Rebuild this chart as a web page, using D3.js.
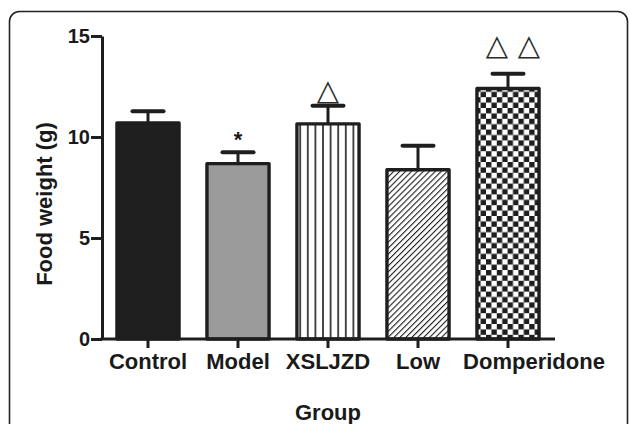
<!DOCTYPE html>
<html>
<head>
<meta charset="utf-8">
<script src="https://cdn.jsdelivr.net/npm/d3@7/dist/d3.min.js"></script>
<style>
  html, body { margin: 0; padding: 0; background: #fff; }
  svg { display: block; }
  text { font-family: "Liberation Sans", Arial, sans-serif; font-weight: bold; fill: #1a1a1a; }
</style>
</head>
<body>
<svg id="chart" width="630" height="424"></svg>
<script>
// Food intake per group (mean ± SEM)
const groups = ["Control", "Model", "XSLJZD", "Low", "Domperidone"];
const means = [10.7, 8.68, 10.65, 8.38, 12.4];
const sems = [0.58, 0.56, 0.9, 1.19, 0.73];
const marks = ["", "*", "△", "", "△△"];
const yTicks = [0, 5, 10, 15];

const ink = "#1e1e1e";
const svg = d3.select("#chart");

// Outer panel frame
svg.append("rect")
  .attr("x", 9.5).attr("y", 11.5)
  .attr("width", 618).attr("height", 440)
  .attr("rx", 10).attr("ry", 10)
  .attr("fill", "none").attr("stroke", "#222").attr("stroke-width", 1.6);

// Fill patterns
const defs = svg.append("defs");

const vlines = defs.append("pattern").attr("id", "vlines")
  .attr("patternUnits", "userSpaceOnUse").attr("width", 7.6).attr("height", 10);
vlines.append("rect").attr("width", 7.6).attr("height", 10).attr("fill", "#fff");
vlines.append("line").attr("x1", 3.8).attr("x2", 3.8).attr("y1", 0).attr("y2", 10)
  .attr("stroke", ink).attr("stroke-width", 1.6);

const hatch = defs.append("pattern").attr("id", "hatch")
  .attr("patternUnits", "userSpaceOnUse").attr("width", 4.2).attr("height", 4.2)
  .attr("patternTransform", "rotate(45)");
hatch.append("rect").attr("width", 4.2).attr("height", 4.2).attr("fill", "#fff");
hatch.append("line").attr("x1", 0).attr("x2", 0).attr("y1", 0).attr("y2", 4.2)
  .attr("stroke", ink).attr("stroke-width", 2.2);

const cell = 5.4;
const checker = defs.append("pattern").attr("id", "checker")
  .attr("patternUnits", "userSpaceOnUse").attr("width", cell * 2).attr("height", cell * 2);
checker.append("rect").attr("width", cell * 2).attr("height", cell * 2).attr("fill", "#fff");
checker.append("rect").attr("width", cell).attr("height", cell).attr("fill", ink);
checker.append("rect").attr("x", cell).attr("y", cell).attr("width", cell).attr("height", cell).attr("fill", ink);

const fills = ["#1f1f1f", "#9b9b9b", "url(#vlines)", "url(#hatch)", "url(#checker)"];

// Scales
const x = d3.scaleBand().domain(groups).range([103, 553]).paddingInner(0.31).paddingOuter(0.155);
const y = d3.scaleLinear().domain([0, 15]).range([339, 36]);

// Bars
svg.append("g").selectAll("rect")
  .data(groups)
  .join("rect")
  .attr("x", d => x(d))
  .attr("width", x.bandwidth())
  .attr("y", (d, i) => y(means[i]))
  .attr("height", (d, i) => y(0) - y(means[i]))
  .attr("fill", (d, i) => fills[i])
  .attr("stroke", ink)
  .attr("stroke-width", 3.4)
  .attr("stroke-linejoin", "round");

// Error bars (upper only)
const err = svg.append("g").attr("stroke", ink).attr("stroke-linecap", "round");
groups.forEach((g, i) => {
  const cx = x(g) + x.bandwidth() / 2;
  err.append("line")
    .attr("x1", cx).attr("x2", cx)
    .attr("y1", y(means[i])).attr("y2", y(means[i] + sems[i]))
    .attr("stroke-width", 3);
  err.append("line")
    .attr("x1", cx - 15.5).attr("x2", cx + 15.5)
    .attr("y1", y(means[i] + sems[i])).attr("y2", y(means[i] + sems[i]))
    .attr("stroke-width", 4);
});

// Significance marks: gap above the error cap and horizontal shift of the group
const markGap = { "Model": 5, "XSLJZD": 6, "Domperidone": 19 };
const markShift = { "Domperidone": 5 };
const markSpacing = 32;
groups.forEach((g, i) => {
  if (!marks[i]) return;
  const cx = x(g) + x.bandwidth() / 2 + (markShift[g] || 0);
  const base = y(means[i] + sems[i]) - (markGap[g] || 6);
  if (marks[i] === "*") {
    svg.append("text")
      .attr("x", cx).attr("y", base)
      .attr("text-anchor", "middle")
      .style("font-size", "22px")
      .text(marks[i]);
    return;
  }
  const glyphs = Array.from(marks[i]);
  glyphs.forEach((c, k) => {
    svg.append("text")
      .attr("x", cx + (k - (glyphs.length - 1) / 2) * markSpacing)
      .attr("y", base)
      .attr("text-anchor", "middle")
      .style("font-family", "'DejaVu Sans', sans-serif")
      .style("font-weight", "normal")
      .style("font-size", "29px")
      .style("fill", "#2a2a2a")
      .text(c);
  });
});

// Y axis
const yAxis = svg.append("g")
  .attr("transform", "translate(102,0)")
  .call(d3.axisLeft(y).tickValues(yTicks).tickFormat(d3.format("d")).tickSize(11).tickSizeOuter(0).tickPadding(1));
yAxis.select(".domain").attr("stroke", ink).attr("stroke-width", 3);
yAxis.selectAll(".tick line").attr("stroke", ink).attr("stroke-width", 3);
yAxis.selectAll(".tick text").style("font-size", "20px").style("font-family", "'Liberation Sans', Arial, sans-serif").style("font-weight", "bold").attr("fill", "#1a1a1a");

// X axis
const xAxis = svg.append("g")
  .attr("transform", "translate(0,339)")
  .call(d3.axisBottom(x).tickSize(9).tickSizeOuter(0).tickFormat(""));
xAxis.select(".domain").remove();
xAxis.selectAll(".tick line").attr("stroke", ink).attr("stroke-width", 3);
xAxis.append("line")
  .attr("x1", 100.5).attr("x2", x.range()[1] + 2)
  .attr("y1", 0).attr("y2", 0)
  .attr("stroke", ink).attr("stroke-width", 3);

// Category labels
const labelShift = { "Domperidone": 26 };
svg.append("g").selectAll("text")
  .data(groups)
  .join("text")
  .attr("x", d => x(d) + x.bandwidth() / 2 + (labelShift[d] || 0))
  .attr("y", 369)
  .attr("text-anchor", "middle")
  .style("font-size", "22px")
  .text(d => d);

// Axis titles
svg.append("text")
  .attr("x", 328).attr("y", 420)
  .attr("text-anchor", "middle")
  .style("font-size", "22px")
  .text("Group");

svg.append("text")
  .attr("transform", "translate(52,204) rotate(-90)")
  .attr("text-anchor", "middle")
  .style("font-size", "22px")
  .text("Food weight (g)");
</script>
</body>
</html>
